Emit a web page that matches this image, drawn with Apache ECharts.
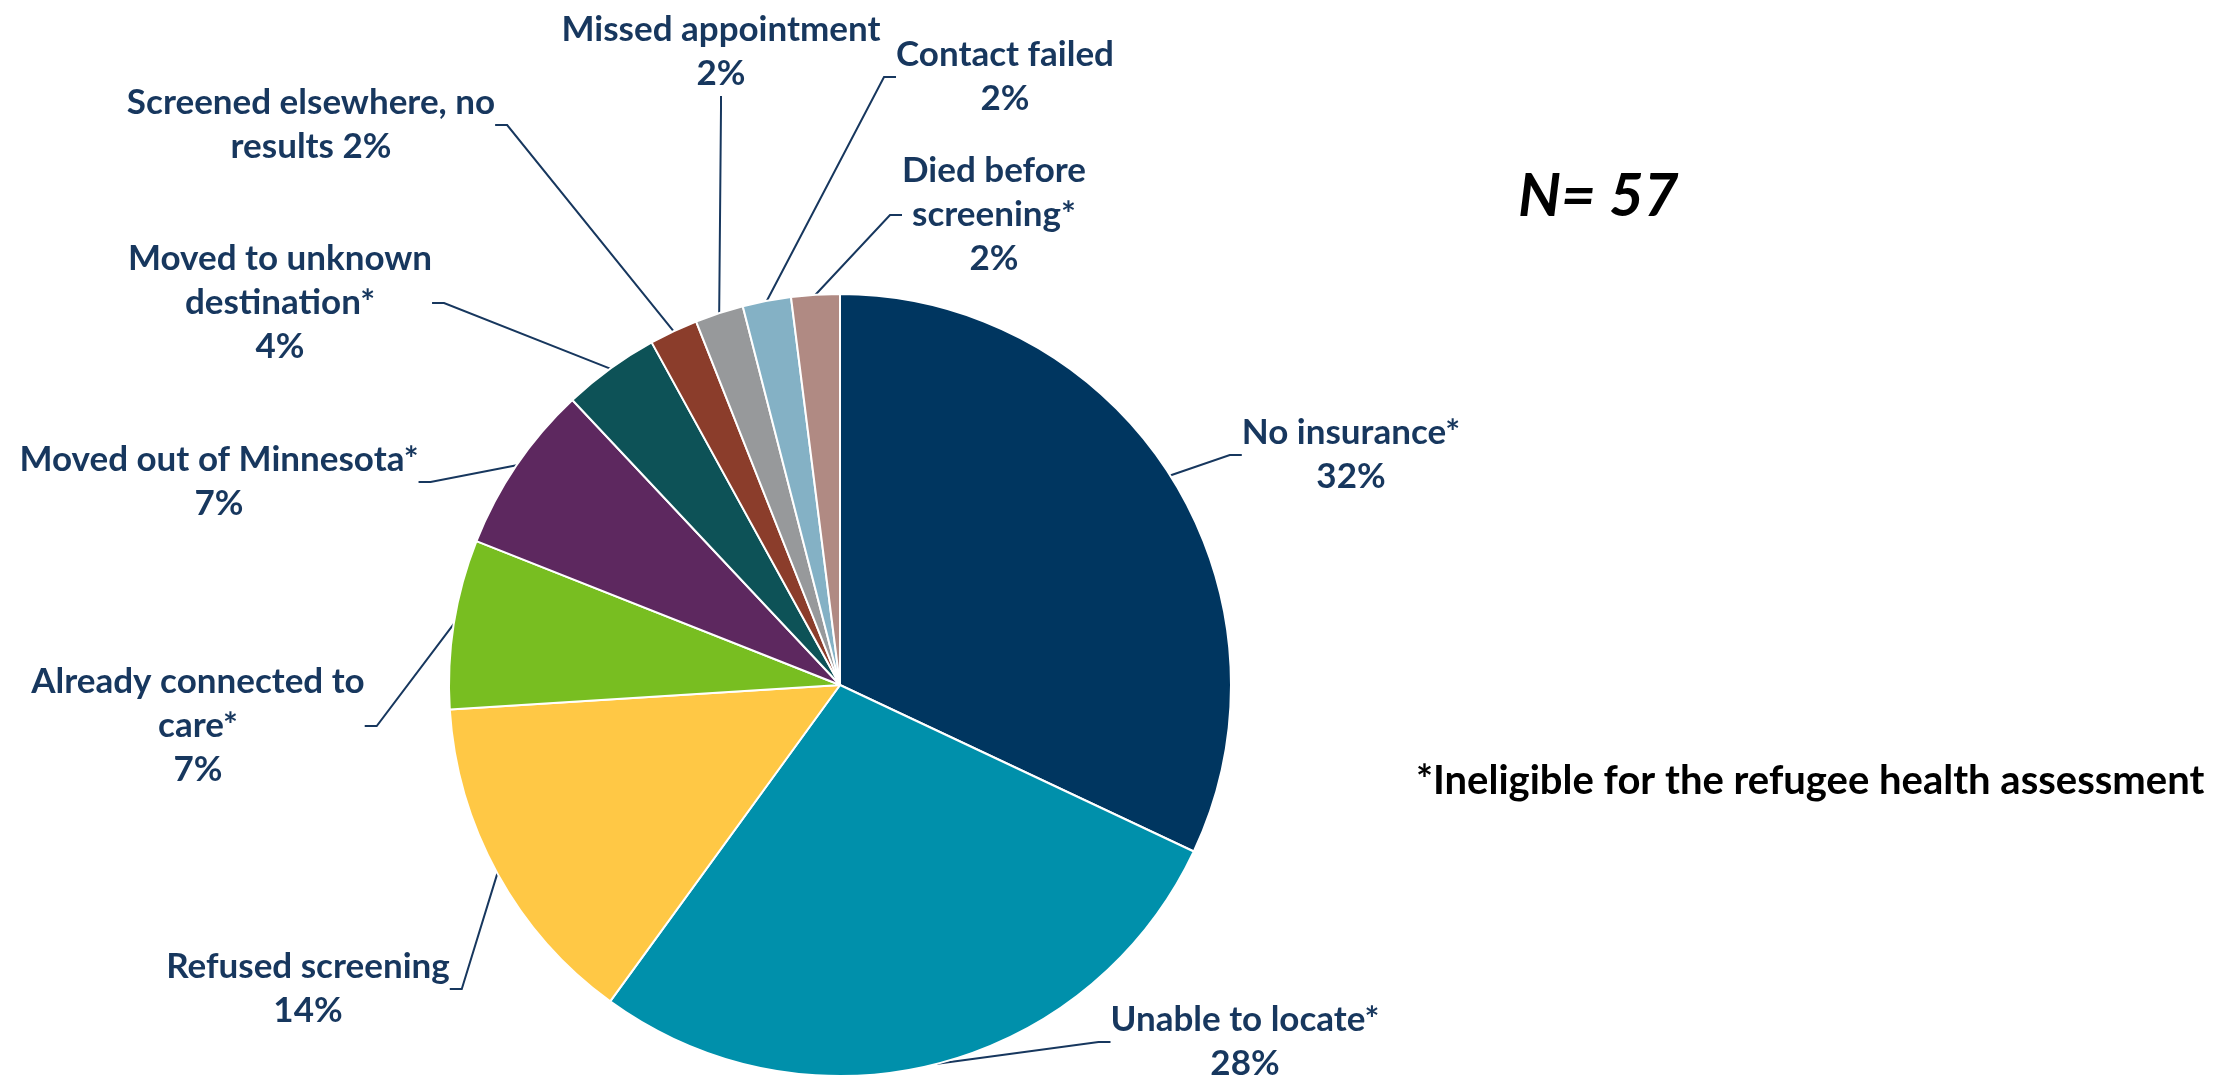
<!DOCTYPE html>
<html>
<head>
<meta charset="utf-8">
<title>Refugee health assessment - not screened</title>
<script src="https://cdn.jsdelivr.net/npm/echarts@6/dist/echarts.min.js"></script>
<style>
  html, body { margin: 0; padding: 0; background: #fff; }
  #chart { width: 2214px; height: 1080px; }
</style>
</head>
<body>
<div id="chart"></div>
<script>
// reasons, clockwise from 12 o'clock (line breaks as wrapped in the source)
const categories = [
  'No insurance*',
  'Unable to locate*',
  'Refused screening',
  'Already connected to\ncare*',
  'Moved out of Minnesota*',
  'Moved to unknown\ndestination*',
  'Screened elsewhere, no\nresults',
  'Missed appointment',
  'Contact failed',
  'Died before\nscreening*'
]
const percents = [32, 28, 14, 7, 7, 4, 2, 2, 2, 2]
const totalN = 57

const sliceColors = [
  '#003660', '#0090AB', '#FFC845', '#78BE21', '#5D285F',
  '#0D5257', '#8B3D2B', '#97999B', '#84B1C5', '#B08A83'
]

// where each label block sits (center of the text block, px)
const labelSpots = [
  [1351, 455], [1245, 1042], [308, 989], [198, 726], [219, 482],
  [280, 303], [311, 125], [721, 52], [1005, 77], [994, 215]
]

const navy = '#17375E'
const chart = echarts.init(document.getElementById('chart'))

const option = {
  backgroundColor: '#ffffff',
  animation: false,
  graphic: [
    {
      type: 'text',
      left: 1518,
      top: 167,
      style: {
        text: 'N= ' + totalN,
        font: 'italic bold 60px Lato',
        fill: '#000'
      }
    },
    {
      type: 'text',
      left: 1416,
      top: 761,
      style: {
        text: '*Ineligible for the refugee health assessment',
        font: 'bold 40px Lato',
        fill: '#000'
      }
    }
  ],
  series: [
    {
      type: 'pie',
      center: [840, 685],
      radius: 391,
      startAngle: 90,
      clockwise: true,
      avoidLabelOverlap: false,
      itemStyle: { borderColor: '#fff', borderWidth: 2 },
      label: {
        show: true,
        position: 'outside',
        color: navy,
        fontFamily: 'Lato',
        fontWeight: 'bold',
        fontSize: 35,
        lineHeight: 44,
        align: 'center',
        formatter: p => p.dataIndex === 6
          ? p.name + ' ' + p.value + '%'
          : p.name + '\n' + p.value + '%'
      },
      labelLine: {
        show: true,
        length: 25,
        length2: 12,
        lineStyle: { color: navy, width: 2 }
      },
      labelLayout: params => {
        const s = labelSpots[params.dataIndex]
        return { x: s[0], y: s[1], align: 'center', verticalAlign: 'middle' }
      },
      emphasis: { disabled: true },
      data: categories.map((name, i) => ({
        name: name,
        value: percents[i],
        itemStyle: { color: sliceColors[i] }
      }))
    }
  ]
}

chart.setOption(option)
</script>
</body>
</html>
